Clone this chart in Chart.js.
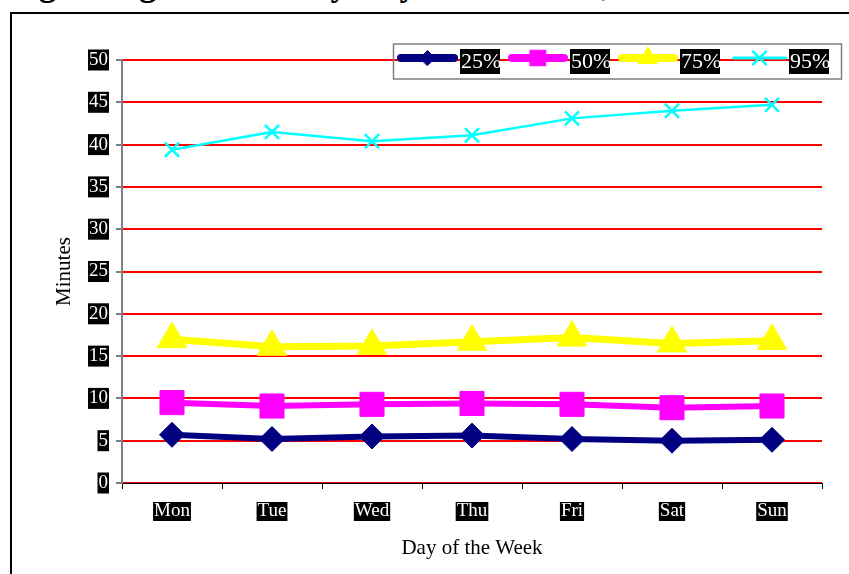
<!DOCTYPE html>
<html>
<head>
<meta charset="utf-8">
<script src="https://cdn.jsdelivr.net/npm/chart.js@4"></script>
<style>
  html, body { margin: 0; padding: 0; background: #fff; overflow: hidden; }
  #wrap { position: relative; width: 849px; height: 574px; overflow: hidden; }
  #frame { position: absolute; left: 10px; top: 12px; width: 900px; height: 700px; border: 2px solid #000; box-sizing: border-box; }
  #title { position: absolute; left: -50px; top: -34px; white-space: nowrap; font: bold 35px/35px "Liberation Serif", serif; color: #000; }
  canvas { position: absolute; left: 0; top: 0; }
</style>
</head>
<body>
<div id="wrap">
  <div id="frame"></div>
  <div id="title">Average Length of Visit by Day of the Week, Quartiles</div>
  <canvas id="chart" width="849" height="574"></canvas>
</div>
<script>
// data
const days = ['Mon', 'Tue', 'Wed', 'Thu', 'Fri', 'Sat', 'Sun'];
const seriesNames = ['25%', '50%', '75%', '95%'];
const q25 = [5.7, 5.2, 5.5, 5.6, 5.2, 5.0, 5.1];
const q50 = [9.5, 9.1, 9.3, 9.4, 9.3, 8.9, 9.1];
const q75 = [17.0, 16.1, 16.2, 16.7, 17.2, 16.5, 16.8];
const q95 = [39.4, 41.5, 40.4, 41.1, 43.1, 44.0, 44.7];
const yMin = 0, yMax = 50, yStep = 5;

const serif = 'Liberation Serif, Times New Roman, serif';

// legend drawn by hand: lines + markers + black label boxes
const boxLegend = {
  id: 'boxLegend',
  afterDraw(chart) {
    const ctx = chart.ctx;
    const starts = [397, 508, 618, 732];
    const lens = [61, 60, 60, 55];
    const widths = [8, 8, 8, 3];
    const radii = [7.5, 11, 11, 9];
    const lineY = 58;
    ctx.save();
    ctx.strokeStyle = '#7f7f7f';
    ctx.lineWidth = 1.5;
    ctx.strokeRect(393.5, 44, 448, 35);
    chart.data.datasets.forEach((ds, i) => {
      const sx = starts[i], len = lens[i];
      ctx.strokeStyle = ds.borderColor;
      ctx.lineWidth = widths[i];
      ctx.lineCap = 'round';
      ctx.beginPath();
      ctx.moveTo(sx + widths[i] / 2, lineY);
      ctx.lineTo(sx + len - widths[i] / 2, lineY);
      ctx.stroke();
      ctx.fillStyle = ds.borderColor;
      ctx.lineWidth = ds.pointStyle === 'crossRot' ? 2.5 : 1;
      Chart.helpers.drawPoint(ctx, {
        pointStyle: ds.pointStyle, rotation: 0, radius: radii[i], borderWidth: ctx.lineWidth
      }, sx + len / 2, lineY);
      const lx = sx + len + 2;
      ctx.fillStyle = '#000';
      ctx.fillRect(lx, 49, 40, 25);
      ctx.fillStyle = '#fff';
      ctx.font = '22px ' + serif;
      ctx.textAlign = 'left';
      ctx.textBaseline = 'middle';
      ctx.fillText(ds.label, lx + 1, 62);
    });
    ctx.restore();
  }
};

const tickFont = { family: serif, size: 19, lineHeight: 1 };

new Chart(document.getElementById('chart'), {
  type: 'line',
  data: {
    labels: days,
    datasets: [
      { label: seriesNames[0], data: q25, borderColor: '#000080', backgroundColor: '#000080',
        borderWidth: 6, pointStyle: 'rectRot', pointRadius: 12.5, pointBorderWidth: 1 },
      { label: seriesNames[1], data: q50, borderColor: '#FF00FF', backgroundColor: '#FF00FF',
        borderWidth: 6, pointStyle: 'rect', pointRadius: 17, pointBorderWidth: 1 },
      { label: seriesNames[2], data: q75, borderColor: '#FFFF00', backgroundColor: '#FFFF00',
        borderWidth: 7, pointStyle: 'triangle', pointRadius: 17, pointBorderWidth: 1 },
      { label: seriesNames[3], data: q95, borderColor: '#00FFFF', backgroundColor: '#00FFFF',
        borderWidth: 2.5, pointStyle: 'crossRot', pointRadius: 10, pointBorderWidth: 2.5 }
    ]
  },
  options: {
    responsive: false,
    animation: false,
    events: [],
    layout: { padding: { left: 0, top: 60, right: 27, bottom: 0 } },
    elements: { line: { tension: 0, fill: false } },
    plugins: {
      legend: { display: false },
      tooltip: { enabled: false },
      title: { display: false }
    },
    scales: {
      x: {
        offset: true,
        grid: { display: true, drawOnChartArea: false, drawTicks: true, tickLength: 6, tickColor: '#000', offset: true },
        border: { color: '#000', width: 1 },
        ticks: {
          color: '#fff', font: tickFont, padding: 13, maxRotation: 0,
          showLabelBackdrop: true, backdropColor: '#000', backdropPadding: { top: 0, bottom: 0, left: 1, right: 1 }
        },
        title: { display: true, text: 'Day of the Week', color: '#000', font: { family: serif, size: 21 }, padding: { top: 0, bottom: 13 } },
        afterFit(s) { s.height = 91; }
      },
      y: {
        min: yMin, max: yMax,
        grid: { color: '#FF0000', lineWidth: 2, tickColor: '#000', tickLength: 6, tickWidth: 1 },
        border: { color: '#808080', width: 2 },
        ticks: {
          stepSize: yStep, color: '#fff', font: tickFont, padding: 8,
          showLabelBackdrop: true, backdropColor: '#000', backdropPadding: { top: 1, bottom: 1, left: 1, right: 1 }
        },
        title: { display: true, text: 'Minutes', color: '#000', font: { family: serif, size: 21 }, padding: { top: 52, bottom: 0 } },
        afterFit(s) { s.width = 122; }
      }
    }
  },
  plugins: [boxLegend]
});
</script>
</body>
</html>
